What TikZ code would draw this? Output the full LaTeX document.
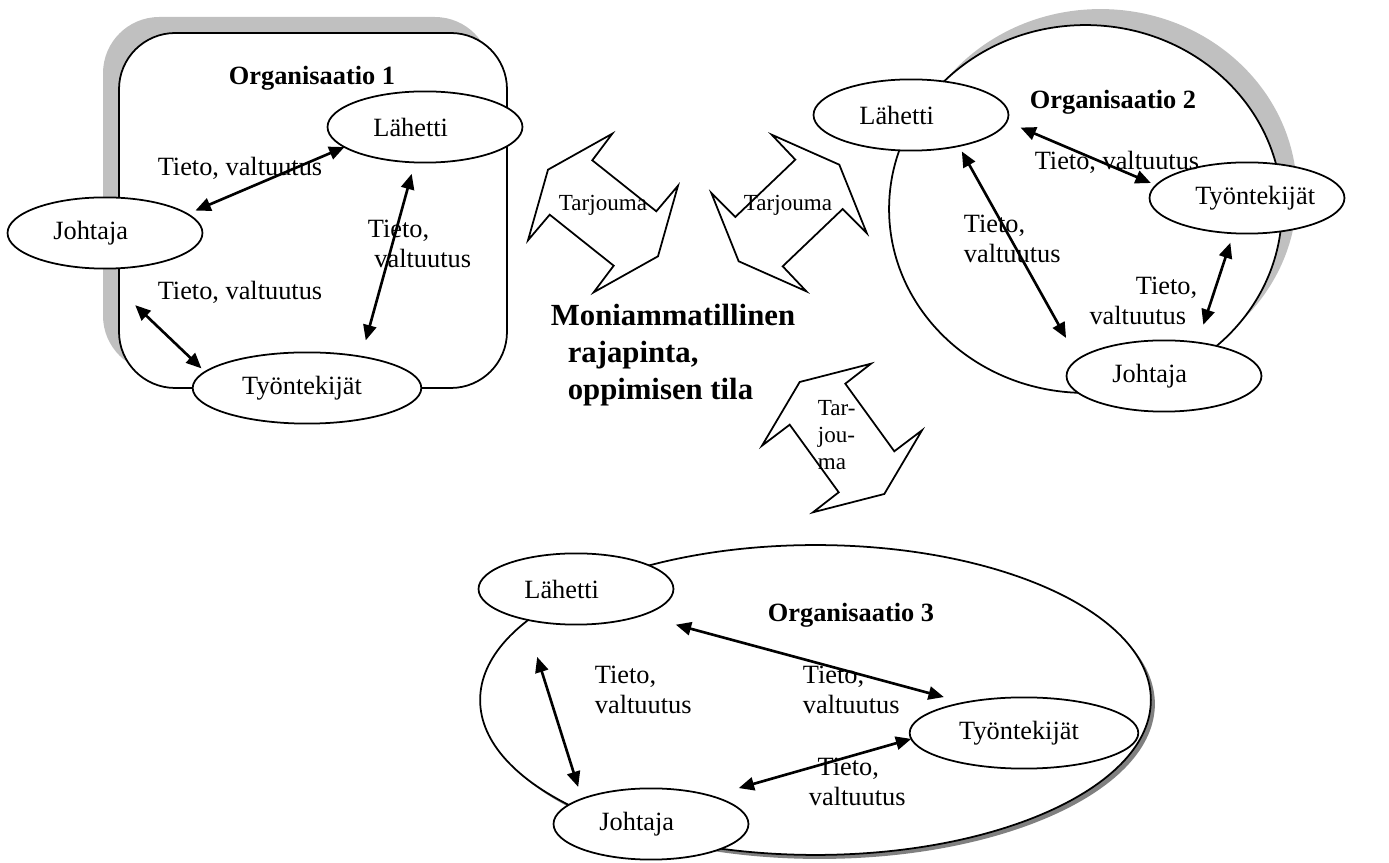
\documentclass[tikz,border=0pt]{standalone}
\usepackage{fontspec}
\setmainfont{Liberation Serif}
\usetikzlibrary{shapes.geometric,arrows.meta}

\definecolor{varjo}{RGB}{192,192,192}
\definecolor{varjotumma}{RGB}{128,128,128}

\newcommand{\nimi}[2][47pt]{\makebox[#1][l]{#2}}

\tikzset{
  rooli/.style={ellipse, draw, fill=white, line width=0.8pt, minimum width=3.12cm,
    minimum height=1.14cm, inner sep=0pt, outer sep=0pt, font=\fontsize{12}{14}\selectfont},
  levea/.style={minimum width=3.66cm},
  teksti/.style={inner sep=0pt, align=left, font=\fontsize{12}{13.5}\selectfont},
  otsikko/.style={inner sep=0pt, font=\fontsize{12}{14}\selectfont\bfseries},
  tarjous/.style={draw, fill=white, line width=0.8pt},
  tarjousteksti/.style={inner sep=0pt, align=left, font=\fontsize{10.5}{12.3}\selectfont},
  nuoli/.style={<->, >={Triangle[length=7pt,width=6pt]}, line width=1.2pt}
}

\begin{document}
\begin{tikzpicture}[x=0.016cm, y=-0.016cm, line width=0.8pt]
\useasboundingbox (0,0) rectangle (1389,863);

% organisaatiot
\fill[varjo, rounded corners=0.9cm] (103,17) rectangle (491,372);
\draw[fill=white, rounded corners=0.9cm] (119,33) rectangle (507,388);
\fill[varjo] (1100.5,193) ellipse [x radius=3.144cm, y radius=2.944cm];
\draw[fill=white] (1085.5,209) ellipse [x radius=3.144cm, y radius=2.944cm];
\fill[varjotumma] (819.5,704) ellipse [x radius=5.368cm, y radius=2.48cm];
\draw[fill=white] (815.5,700) ellipse [x radius=5.368cm, y radius=2.48cm];

% tarjoumat
\draw[tarjous, shift={(603,213)}] (9.3,-79.3) -- (-10.7,-52.7) -- (53.3,-1.7) -- (75,-27.3)
  -- (55,43.3) -- (-9.3,79.3) -- (10.7,52.7) -- (-53.3,1.7) -- (-75,27.3) -- (-55,-43.3) -- cycle;
\draw[tarjous, shift={(789,213)}] (-17.3,-78.3) -- (50.3,-48.3) -- (77.7,20) -- (53.7,-4)
  -- (-6.3,53.3) -- (17.3,78.3) -- (-50.3,48.3) -- (-77.7,-20) -- (-53.7,4) -- (6.3,-53.3) -- cycle;
\draw[tarjous, shift={(842,438)}] (29,-74.3) -- (3.3,-54.3) -- (52.3,13.3) -- (80,-7.7)
  -- (42.3,56) -- (-29,74.3) -- (-3.3,54.3) -- (-52.3,-13.3) -- (-80,7.7) -- (-42.3,-56) -- cycle;
\node[tarjousteksti] (tar1) at (603,205) {Tarjouma};
\node[tarjousteksti] (tar2) at (788,205) {Tarjouma};
\node[tarjousteksti, anchor=west] (tar3) at (817,435) {Tar-\\jou-\\ma};

\node[inner sep=0pt, align=left, anchor=west, font=\fontsize{14}{16.8}\selectfont\bfseries] (raja) at (550,355)
  {Moniammatillinen\\\hspace*{7.7pt}rajapinta,\\\hspace*{7.7pt}oppimisen tila};

% Organisaatio 1
\node[otsikko] (org1) at (312,78) {Organisaatio 1};
\node[rooli] (joh1) at (105,233) {\nimi{Johtaja}};
\node[rooli] (lah1) at (425,127) {\nimi{Lähetti}};
\node[rooli, levea] (tyo1) at (307,388) {\nimi[59pt]{Työntekijät}};
\node[teksti] (t1a) at (240,168) {Tieto, valtuutus};
\node[teksti] (t1b) at (240,292) {Tieto, valtuutus};
\node[teksti, anchor=west] (t1c) at (367,244) {Tieto,\\\hspace*{3pt}valtuutus};
\draw[nuoli, shorten <=0.14cm] (joh1.13) -- (lah1.194);
\draw[nuoli, shorten <=0.85cm, shorten >=0.08cm] (joh1.257) -- (tyo1.171);
\draw[nuoli, shorten <=0.19cm, shorten >=0.27cm] (lah1.254) -- (tyo1.30);

% Organisaatio 2
\node[otsikko] (org2) at (1113,102) {Organisaatio 2};
\node[rooli] (lah2) at (911,115) {\nimi{Lähetti}};
\node[rooli] (tyo2) at (1247,198) {\nimi{Työntekijät}};
\node[rooli] (joh2) at (1164,376) {\nimi{Johtaja}};
\node[teksti] (t2a) at (1117,162) {Tieto, valtuutus};
\node[teksti, anchor=west] (t2b) at (963,239) {Tieto,\\valtuutus};
\node[teksti, align=right, anchor=east] (t2c) at (1198,301) {Tieto,\\valtuutus\hspace*{5pt}};
\draw[nuoli, shorten <=0.24cm, shorten >=0.09cm] (lah2.356) -- (tyo2.172);
\draw[nuoli, shorten <=0.1cm, shorten >=0.39cm] (lah2.327) -- (joh2.169);
\draw[nuoli, shorten <=0.16cm, shorten >=0.3cm] (tyo2.249) -- (joh2.45);

% Organisaatio 3
\node[otsikko] (org3) at (851,615) {Organisaatio 3};
\node[rooli] (lah3) at (576,589) {\nimi{Lähetti}};
\node[rooli] (joh3) at (651,824) {\nimi{Johtaja}};
\node[rooli, levea] (tyo3) at (1024,733) {\nimi[59pt]{Työntekijät}};
\node[teksti, anchor=west] (t3a) at (594,690) {Tieto,\\valtuutus};
\node[teksti, anchor=west] (t3b) at (802,690) {Tieto,\\valtuutus};
\node[teksti, anchor=west] (t3c) at (808,782) {\hspace*{4pt}Tieto,\\valtuutus};
\draw[nuoli, shorten <=0.57cm, shorten >=0.34cm] (lah3.338) -- (tyo3.153);
\draw[nuoli, shorten <=0.63cm, shorten >=0.2cm] (lah3.211) -- (joh3.160);
\draw[nuoli, shorten <=0.46cm] (joh3.25) -- (tyo3.183);
\end{tikzpicture}
\end{document}
